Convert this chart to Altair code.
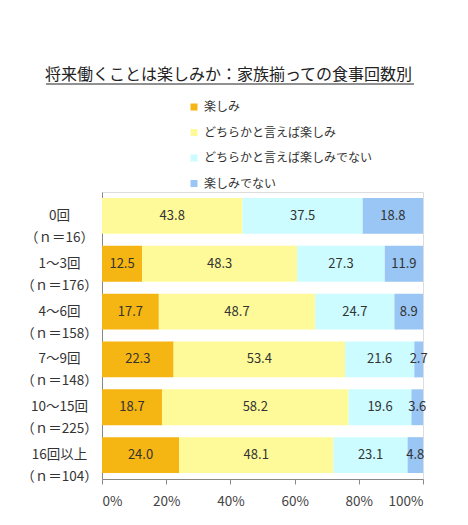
import altair as alt
import pandas as pd

groups = ["0回|（ｎ＝16）", "1～3回|（ｎ＝176）", "4～6回|（ｎ＝158）", "7～9回|（ｎ＝148）", "10～15回|（ｎ＝225）", "16回以上|（ｎ＝104）"]
categories = ["楽しみ", "どちらかと言えば楽しみ", "どちらかと言えば楽しみでない", "楽しみでない"]
colors = ["#F5B512", "#FFFA99", "#CCFCFF", "#99C6F5"]
v_tanoshimi = [0.0, 12.5, 17.7, 22.3, 18.7, 24.0]
v_dochira_tano = [43.8, 48.3, 48.7, 53.4, 58.2, 48.1]
v_dochira_nai = [37.5, 27.3, 24.7, 21.6, 19.6, 23.1]
v_nai = [18.8, 11.9, 8.9, 2.7, 3.6, 4.8]
title_text = "将来働くことは楽しみか：家族揃っての食事回数別"

series = [v_tanoshimi, v_dochira_tano, v_dochira_nai, v_nai]
rows = []
for ci, (cat, vals) in enumerate(zip(categories, series)):
    for g, v in zip(groups, vals):
        rows.append({"group": g, "cat": cat, "order": ci, "value": v})
df = pd.DataFrame(rows)

FONT = "Noto Sans CJK JP"

base = alt.Chart(df).transform_stack(
    stack="value", groupby=["group"], as_=["v0", "v1"], offset="normalize",
    sort=[alt.SortField("order", order="ascending")]
).transform_calculate(mid="(datum.v0 + datum.v1) / 2")

yenc = alt.Y("group:N", sort=groups, title=None,
             scale=alt.Scale(paddingInner=0.25, paddingOuter=0.125),
             axis=alt.Axis(labelExpr="split(datum.label, '|')", labelAlign="center",
                           labelBaseline="middle", labelPadding=43, labelLineHeight=22,
                           labelFontSize=13.5, labelColor="#333333", labelFont=FONT,
                           ticks=False, domainColor="#888888", labelLimit=200))

bars = base.mark_bar().encode(
    x=alt.X("v0:Q", title=None, scale=alt.Scale(domain=[0, 1]),
            axis=alt.Axis(format="%", values=[0, 0.2, 0.4, 0.6, 0.8, 1.0], grid=False,
                          tickSize=5, tickColor="#888888", domainColor="#888888",
                          labelPadding=10, labelFontSize=13.5, labelColor="#444444",
                          labelFont=FONT)),
    x2="v1:Q",
    y=yenc,
    color=alt.Color("cat:N", sort=categories,
                    scale=alt.Scale(domain=categories, range=colors),
                    legend=alt.Legend(title=None, orient="none", legendX=86, legendY=-91,
                                      symbolType="square", symbolSize=49, symbolStrokeWidth=0,
                                      labelFontSize=12, labelFont=FONT, labelColor="#333333",
                                      rowPadding=13.5, padding=0, labelLimit=300)),
)

labels = base.transform_filter("datum.value > 0").mark_text(
    fontSize=13, font=FONT, color="#333333", baseline="middle", align="center"
).encode(
    x="mid:Q",
    y=alt.Y("group:N", sort=groups),
    text=alt.Text("value:Q", format=".1f"),
)

underline = alt.Chart(pd.DataFrame({"t": [title_text]})).mark_rule(
    color="#222222", strokeWidth=1
).encode(x=alt.value(-56), x2=alt.value(312), y=alt.value(-108))

chart = (bars + labels + underline).properties(
    width=321, height=287,
    padding={"left": 12, "top": 58, "right": 20, "bottom": 5},
    title=alt.TitleParams(title_text, fontSize=16,
                          font=FONT, fontWeight="normal", color="#222222", anchor="middle",
                          offset=1, dx=-34),
).configure_view(stroke=None).configure(background="white")

chart.save("out.html", embed_options={"renderer": "svg", "actions": False})
